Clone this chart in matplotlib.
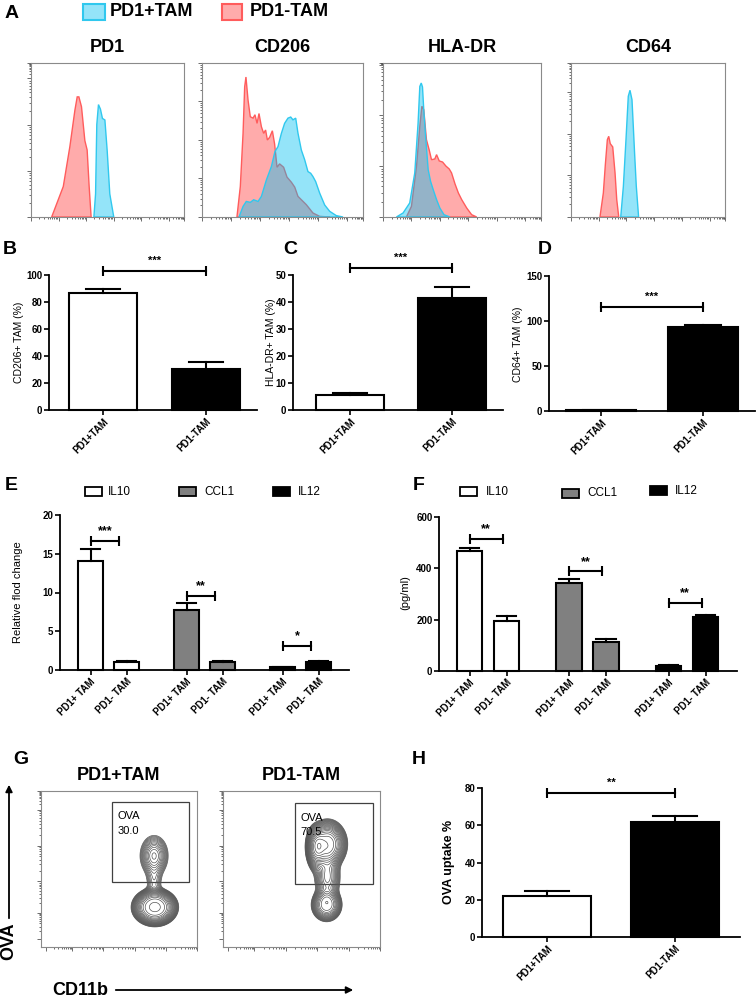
import numpy as np
import matplotlib
matplotlib.use('Agg')
import matplotlib.pyplot as plt
from matplotlib.patches import Rectangle, FancyArrowPatch

plt.rcParams['font.family'] = ['Liberation Sans', 'DejaVu Sans']

# ======================= DATA =======================
legend_labels = ['PD1+TAM', 'PD1-TAM']
hist_markers = ['PD1', 'CD206', 'HLA-DR', 'CD64']

# Panel A histogram outlines (x: % of axis width, y: % of axis height)
pd1_neg_x = [13.5, 21.1, 25.4, 28.7, 30.2, 31.3, 33.0, 35.2, 36.7, 38.0, 39.3]
pd1_neg_y = [0, 19.8, 45.7, 69.4, 78.0, 78.0, 71.6, 49.6, 43.5, 20.0, 0]
pd1_pos_x = [41.1, 42.2, 43.0, 44.1, 45.4, 46.7, 48.3, 49.8, 51.5, 54.1]
pd1_pos_y = [0, 15.0, 60.0, 73.0, 70.0, 64.0, 63.0, 43.0, 15.0, 0]

cd206_neg_x = [21.7, 23.8, 25.5, 26.5, 27.3, 28.6, 30.0, 31.7, 32.9, 34.2, 35.4, 36.9, 38.3, 39.5,
               40.6, 42.0, 43.7, 45.1, 46.6, 48.2, 50.7, 52.8, 55.5, 57.6, 59.6, 61.7, 64.8, 68.9,
               73.1, 79.3]
cd206_neg_y = [0, 19.8, 54.3, 84.5, 90.9, 75.9, 65.1, 64.2, 66.4, 60.8, 67.2, 58.6, 54.3, 56.5,
               50.0, 51.7, 56.0, 47.4, 32.3, 34.5, 32.3, 25.9, 22.6, 19.4, 13.4, 11.2, 8.0, 2.6,
               0.4, 0]
cd206_pos_x = [23.0, 25.5, 27.5, 30.0, 32.1, 34.8, 36.9, 40.0, 43.1, 45.3, 47.2, 49.3, 51.3, 53.4,
               55.1, 56.5, 58.2, 59.6, 61.7, 63.8, 65.8, 67.5, 68.9, 70.6, 73.1, 76.2, 79.3, 83.4,
               87.6]
cd206_pos_y = [0, 6.9, 10.1, 9.5, 11.2, 10.1, 13.4, 24.1, 32.8, 42.5, 45.7, 54.3, 60.8, 64.2,
               64.9, 63.1, 64.2, 54.5, 43.5, 37.1, 29.5, 28.4, 26.3, 23.0, 15.5, 7.8, 3.7, 0.9, 0]

hla_neg_x = [14.8, 18.0, 21.2, 23.3, 24.6, 25.8, 27.5, 29.2, 30.7, 32.8, 33.9, 35.6, 37.7, 39.8,
             41.9, 43.4, 45.6, 47.7, 49.8, 53.0, 56.1, 59.3]
hla_neg_y = [0, 6.9, 32.9, 58.9, 71.9, 69.7, 50.2, 43.7, 37.2, 37.7, 40.5, 36.4, 35.7, 33.1,
             31.2, 28.6, 21.4, 15.6, 11.3, 5.8, 1.5, 0]
hla_pos_x = [8.5, 12.7, 16.9, 20.1, 22.2, 23.3, 24.2, 25.0, 25.8, 27.1, 28.6, 30.1, 31.8, 33.9,
             36.0, 38.6, 42.4]
hla_pos_y = [0, 2.6, 9.1, 28.6, 61.0, 84.8, 87.0, 84.4, 69.7, 50.2, 30.7, 23.2, 17.7, 11.3,
             5.8, 1.5, 0]

cd64_neg_x = [18.8, 21.0, 22.3, 23.6, 24.5, 25.5, 27.1, 28.6, 29.7, 31.0]
cd64_neg_y = [0, 15.6, 34.0, 50.2, 52.4, 47.6, 45.5, 28.6, 11.3, 0]
cd64_pos_x = [32.3, 34.0, 35.7, 37.2, 38.3, 39.6, 40.5, 41.3, 42.4, 43.9]
cd64_pos_y = [0, 19.9, 50.2, 78.4, 82.3, 76.2, 58.0, 41.3, 20.0, 0]

# Panels B, C, D, H (two groups)
two_groups = ['PD1+TAM', 'PD1-TAM']
b_values = [86.5, 30.5]
b_errors = [3.4, 4.7]
b_ylabel = 'CD206+ TAM (%)'
c_values = [5.4, 41.4]
c_errors = [0.9, 4.0]
c_ylabel = 'HLA-DR+ TAM (%)'
d_values = [1.0, 93.0]
d_errors = [0.3, 2.5]
d_ylabel = 'CD64+ TAM (%)'
h_values = [22.1, 61.7]
h_errors = [2.5, 3.2]
h_ylabel = 'OVA uptake %'

# Panels E, F (three cytokines x two groups)
cytokines = ['IL10', 'CCL1', 'IL12']
ef_groups = ['PD1+ TAM', 'PD1- TAM']
e_pos_values = [14.06, 7.74, 0.34]
e_pos_errors = [1.50, 0.86, 0.05]
e_neg_values = [1.07, 1.07, 1.07]
e_neg_errors = [0.09, 0.09, 0.12]
e_stars = ['***', '**', '*']
e_ylabel = 'Relative flod change'
f_pos_values = [466, 341, 21]
f_pos_errors = [14, 19, 4]
f_neg_values = [195, 112, 212]
f_neg_errors = [19, 11, 7]
f_stars = ['**', '**', '**']
f_ylabel = '(pg/ml)'

# significance bracket heights (data units)
b_sig = (103, '***')
c_sig = (52.7, '***')
d_sig = (116, '***')
h_sig = (77.3, '**')
e_sig_y = [16.7, 9.6, 3.14]
f_sig_y = [516, 388, 265]

# Panel G
g_titles = ['PD1+TAM', 'PD1-TAM']
g_gate_values = ['30.0', '70.5']
g_gate_name = 'OVA'
# contour populations: (cx, cy, sx, sy, weight, shape) in axis fractions
g_pop_pos = [(0.73, 0.255, 0.075, 0.062, 1.0, 1.6), (0.725, 0.585, 0.045, 0.065, 0.30, 1.0),
             (0.725, 0.42, 0.03, 0.06, 0.10, 1.0)]
g_pop_neg = [(0.66, 0.27, 0.05, 0.055, 0.55, 1.4), (0.665, 0.66, 0.06, 0.075, 0.9, 1.3),
             (0.59, 0.63, 0.03, 0.07, 0.55, 1.2), (0.665, 0.45, 0.04, 0.08, 0.35, 1.0)]

# ======================= LAYOUT =======================
W, H = 756, 997
fig = plt.figure(figsize=(W / 100, H / 100), dpi=100)


def px_axes(x0, y0, x1, y1):
    return fig.add_axes([x0 / W, 1 - y1 / H, (x1 - x0) / W, (y1 - y0) / H])


def ftext(x, y, s, **kw):
    return fig.text(x / W, 1 - y / H, s, **kw)


RED_FACE = (1.0, 0.35, 0.35, 0.5)
RED_EDGE = '#ff5c5c'
CYAN_FACE = (0.0, 0.75, 0.95, 0.42)
CYAN_EDGE = '#30c8ee'
GRAY_AX = '#8a8a8a'
LETTER_FS = 14
TITLE_FS = 13


def flow_ticks(ax, axis, majors):
    pos_major, pos_minor = [], []
    for a, b in zip(majors[:-1], majors[1:]):
        pos_major.append(a)
        for k in range(2, 10):
            pos_minor.append(a + (b - a) * np.log10(k))
    pos_major.append(majors[-1])
    if axis == 'x':
        ax.set_xticks(pos_major)
        ax.set_xticks(pos_minor, minor=True)
        ax.set_xticklabels([])
    else:
        ax.set_yticks(pos_major)
        ax.set_yticks(pos_minor, minor=True)
        ax.set_yticklabels([])


# ---------- Panel A ----------
ftext(5, 13, 'A', fontsize=LETTER_FS, fontweight='bold', ha='left', va='center')
fig.add_artist(Rectangle((83 / W, 1 - 20 / H), 22 / W, 16 / H, transform=fig.transFigure,
                         facecolor=CYAN_FACE, edgecolor=CYAN_EDGE, lw=1.5))
ftext(110, 12, legend_labels[0], fontsize=TITLE_FS, fontweight='bold', ha='left', va='center')
fig.add_artist(Rectangle((222 / W, 1 - 20 / H), 20 / W, 16 / H, transform=fig.transFigure,
                         facecolor=RED_FACE, edgecolor=RED_EDGE, lw=1.5))
ftext(250, 12, legend_labels[1], fontsize=TITLE_FS, fontweight='bold', ha='left', va='center')

hist_boxes = [(31, 63, 184, 217), (202, 63, 363, 217), (383, 63, 541, 217), (571, 63, 725, 217)]
hist_data = [(pd1_neg_x, pd1_neg_y, pd1_pos_x, pd1_pos_y),
             (cd206_neg_x, cd206_neg_y, cd206_pos_x, cd206_pos_y),
             (hla_neg_x, hla_neg_y, hla_pos_x, hla_pos_y),
             (cd64_neg_x, cd64_neg_y, cd64_pos_x, cd64_pos_y)]
hist_ymaj = [30, 25, 33, 27]
for box, title, (nx, ny, px_, py), ystep in zip(hist_boxes, hist_markers, hist_data, hist_ymaj):
    ax = px_axes(*box)
    ax.fill(nx, ny, facecolor=RED_FACE, edgecolor=RED_EDGE, lw=1.0)
    ax.fill(px_, py, facecolor=CYAN_FACE, edgecolor=CYAN_EDGE, lw=1.0)
    ax.set_xlim(0, 100)
    ax.set_ylim(0, 100)
    for s in ax.spines.values():
        s.set_color(GRAY_AX)
        s.set_linewidth(0.8)
    flow_ticks(ax, 'x', [0, 18, 36, 54, 72, 90, 100])
    flow_ticks(ax, 'y', list(np.arange(0, 100, ystep)) + [100])
    ax.tick_params(which='both', direction='out', color='#555555', width=0.6)
    ax.tick_params(which='major', length=3)
    ax.tick_params(which='minor', length=1.5)
    ftext((box[0] + box[2]) / 2, 47, title, fontsize=TITLE_FS, fontweight='bold',
          ha='center', va='center')


# ---------- bar helpers ----------
def bar_axes(x0, x1, ybase, ytop, ymax, ystep, xc0, spacing, headroom=40):
    top_px = ytop - headroom
    ax = px_axes(x0, top_px, x1, ybase)
    ax.set_ylim(0, ymax * (ybase - top_px) / (ybase - ytop))
    ax.set_xlim((x0 - xc0) / spacing, (x1 - xc0) / spacing)
    ax.spines['top'].set_visible(False)
    ax.spines['right'].set_visible(False)
    ax.spines['left'].set_bounds(0, ymax)
    for s in ('left', 'bottom'):
        ax.spines[s].set_linewidth(1.3)
    ticks = np.arange(0, ymax + ystep / 2, ystep)
    ax.set_yticks(ticks, [f'{t:g}' for t in ticks], fontsize=7, fontweight='bold')
    ax.tick_params(direction='out', length=3.5, width=1.2, pad=1.2)
    return ax


def draw_bars(ax, xs, vals, errs, color, width, capfrac=0.5):
    ax.bar(xs, vals, width=width, color=color, edgecolor='black', linewidth=1.5, zorder=2,
           clip_on=False)
    for x, v, e in zip(xs, vals, errs):
        ax.plot([x, x], [v, v + e], color='black', lw=1.5, zorder=3, clip_on=False)
        ax.plot([x - width * capfrac / 2, x + width * capfrac / 2], [v + e, v + e],
                color='black', lw=1.5, zorder=3, clip_on=False)


def bracket(ax, x1, x2, y, stars, dy=3.5, fs=8):
    ax.plot([x1, x2], [y, y], color='black', lw=1.5, marker='|', markersize=7, mew=1.5,
            clip_on=False, zorder=4)
    ax.annotate(stars, xy=((x1 + x2) / 2, y), xytext=(0, dy), textcoords='offset points',
                ha='center', va='bottom', fontsize=fs, fontweight='bold')


def two_bar_panel(box, vals, errs, ylabel, sig, ylabel_xy, ylabel_fs=7.5, ylabel_w='normal'):
    x0, x1, ybase, ytop, ymax, ystep, xc0, spacing, width = box
    ax = bar_axes(x0, x1, ybase, ytop, ymax, ystep, xc0, spacing)
    xs = np.arange(len(vals))
    draw_bars(ax, xs[:1], vals[:1], errs[:1], 'white', width)
    draw_bars(ax, xs[1:], vals[1:], errs[1:], 'black', width)
    ax.set_xticks(xs, two_groups, rotation=45, ha='right', rotation_mode='anchor',
                  fontsize=7, fontweight='bold')
    bracket(ax, xs[0], xs[1], sig[0], sig[1])
    ftext(ylabel_xy[0], ylabel_xy[1], ylabel, rotation=90, ha='center', va='center',
          fontsize=ylabel_fs, fontweight=ylabel_w)
    return ax


# ---------- Panels B, C, D ----------
ftext(3, 249, 'B', fontsize=LETTER_FS, fontweight='bold', ha='left', va='center')
ftext(283, 249, 'C', fontsize=LETTER_FS, fontweight='bold', ha='left', va='center')
ftext(538, 250, 'D', fontsize=LETTER_FS, fontweight='bold', ha='left', va='center')
two_bar_panel((49, 257, 410, 275, 100, 20, 103, 103, 0.66), b_values, b_errors, b_ylabel, b_sig,
              (19, 342))
two_bar_panel((293, 503, 410, 275, 50, 10, 350, 102, 0.67), c_values, c_errors, c_ylabel, c_sig,
              (271, 342))
two_bar_panel((549, 755, 411, 276, 150, 50, 601, 102, 0.69), d_values, d_errors, d_ylabel, d_sig,
              (518, 344))


# ---------- Panels E, F ----------
def grouped_panel(box, pos_v, pos_e, neg_v, neg_e, stars, sig_y, ylabel, ylabel_xy, gstep, brk):
    x0, x1, ybase, ytop, ymax, ystep, xc0, spacing, width = box
    ax = bar_axes(x0, x1, ybase, ytop, ymax, ystep, xc0, spacing)
    colors = ['white', '#808080', 'black']
    ticks, labels = [], []
    for g in range(len(cytokines)):
        xa = g * gstep
        xb = xa + 1
        draw_bars(ax, [xa], [pos_v[g]], [pos_e[g]], colors[g], width, capfrac=0.75)
        draw_bars(ax, [xb], [neg_v[g]], [neg_e[g]], colors[g], width, capfrac=0.75)
        bracket(ax, xa, xa + brk, sig_y[g], stars[g], dy=2.5, fs=9)
        ticks += [xa, xb]
        labels += ef_groups
    ax.set_xticks(ticks, labels, rotation=45, ha='right', rotation_mode='anchor',
                  fontsize=7, fontweight='bold')
    ftext(ylabel_xy[0], ylabel_xy[1], ylabel, rotation=90, ha='center', va='center', fontsize=8)
    return ax


ftext(5, 485, 'E', fontsize=LETTER_FS, fontweight='bold', ha='left', va='center')
ftext(413, 485, 'F', fontsize=LETTER_FS, fontweight='bold', ha='left', va='center')
grouped_panel((60, 349, 670, 515, 20, 5, 90.5, 36, 0.7), e_pos_values, e_pos_errors,
              e_neg_values, e_neg_errors, e_stars, e_sig_y, e_ylabel, (18, 592), 96 / 36, 0.8)
grouped_panel((439, 737, 671, 517, 600, 200, 469.5, 37, 0.7), f_pos_values, f_pos_errors,
              f_neg_values, f_neg_errors, f_stars, f_sig_y, f_ylabel, (405, 593), 99.5 / 37, 0.9)

legend_colors = ['white', '#808080', 'black']
e_leg = [(85, 492, 108), (179, 492, 204), (273, 492, 298)]
f_leg = [(460, 492, 486), (562, 493, 587), (650, 491, 675)]
for legs in (e_leg, f_leg):
    for (bx, by, tx), col, name in zip(legs, legend_colors, cytokines):
        fig.add_artist(Rectangle((bx / W, 1 - (by + 4.5) / H), 17 / W, 9 / H,
                                 transform=fig.transFigure, facecolor=col,
                                 edgecolor='black', lw=1.3))
        ftext(tx, by, name, fontsize=8.5, ha='left', va='center')

# ---------- Panel G ----------
ftext(13, 760, 'G', fontsize=LETTER_FS, fontweight='bold', ha='left', va='center')
g_boxes = [(41, 791, 197, 947), (223, 791, 380, 947)]
g_gates = [(0.457, 0.416, 0.949, 0.932), (0.46, 0.405, 0.953, 0.925)]
grid = np.linspace(0, 1, 400)
GX, GY = np.meshgrid(grid, grid)
for box, title, gate, val, pops in zip(g_boxes, g_titles, g_gates, g_gate_values,
                                       [g_pop_pos, g_pop_neg]):
    ax = px_axes(*box)
    Z = np.zeros_like(GX)
    for cx, cy, sx, sy, wgt, p in pops:
        r2 = (GX - cx) ** 2 / (2 * sx ** 2) + (GY - cy) ** 2 / (2 * sy ** 2)
        Z += wgt * np.exp(-r2 ** p)
    levels = Z.max() * np.geomspace(0.04, 0.97, 22)
    ax.contour(GX, GY, Z, levels=levels, colors='#555555', linewidths=0.5)
    ax.add_patch(Rectangle((gate[0], gate[1]), gate[2] - gate[0], gate[3] - gate[1],
                           fill=False, edgecolor='#404040', lw=0.9))
    ax.text(gate[0] + 0.035, gate[3] - 0.095, g_gate_name, fontsize=8, va='center')
    ax.text(gate[0] + 0.035, gate[3] - 0.19, val, fontsize=8, va='center')
    ax.set_xlim(0, 1)
    ax.set_ylim(0, 1)
    for s in ax.spines.values():
        s.set_color(GRAY_AX)
        s.set_linewidth(0.8)
    flow_ticks(ax, 'x', [0.03, 0.2, 0.4, 0.6, 0.8, 1.0])
    flow_ticks(ax, 'y', [0.05, 0.22, 0.42, 0.65, 0.88, 1.0])
    ax.tick_params(which='both', direction='out', color='#555555', width=0.6)
    ax.tick_params(which='major', length=3)
    ax.tick_params(which='minor', length=1.5)
    ftext((box[0] + box[2]) / 2, 775, title, fontsize=TITLE_FS, fontweight='bold',
          ha='center', va='center')

fig.add_artist(FancyArrowPatch((9 / W, 1 - 921 / H), (9 / W, 1 - 782 / H),
                               transform=fig.transFigure, arrowstyle='-|>', mutation_scale=10,
                               lw=1.3, color='black'))
ftext(9, 941, 'OVA', rotation=90, fontsize=TITLE_FS, fontweight='bold', ha='center', va='center')
ftext(52, 990, 'CD11b', fontsize=TITLE_FS, fontweight='bold', ha='left', va='center')
fig.add_artist(FancyArrowPatch((113 / W, 1 - 990 / H), (356 / W, 1 - 990 / H),
                               transform=fig.transFigure, arrowstyle='-|>', mutation_scale=10,
                               lw=1.3, color='black'))

# ---------- Panel H ----------
ftext(412, 760, 'H', fontsize=LETTER_FS, fontweight='bold', ha='left', va='center')
two_bar_panel((482, 740, 937, 788, 80, 20, 547, 128, 0.68), h_values, h_errors, h_ylabel, h_sig,
              (449, 862), ylabel_fs=9, ylabel_w='bold')

fig.savefig('out.png', dpi=100)
